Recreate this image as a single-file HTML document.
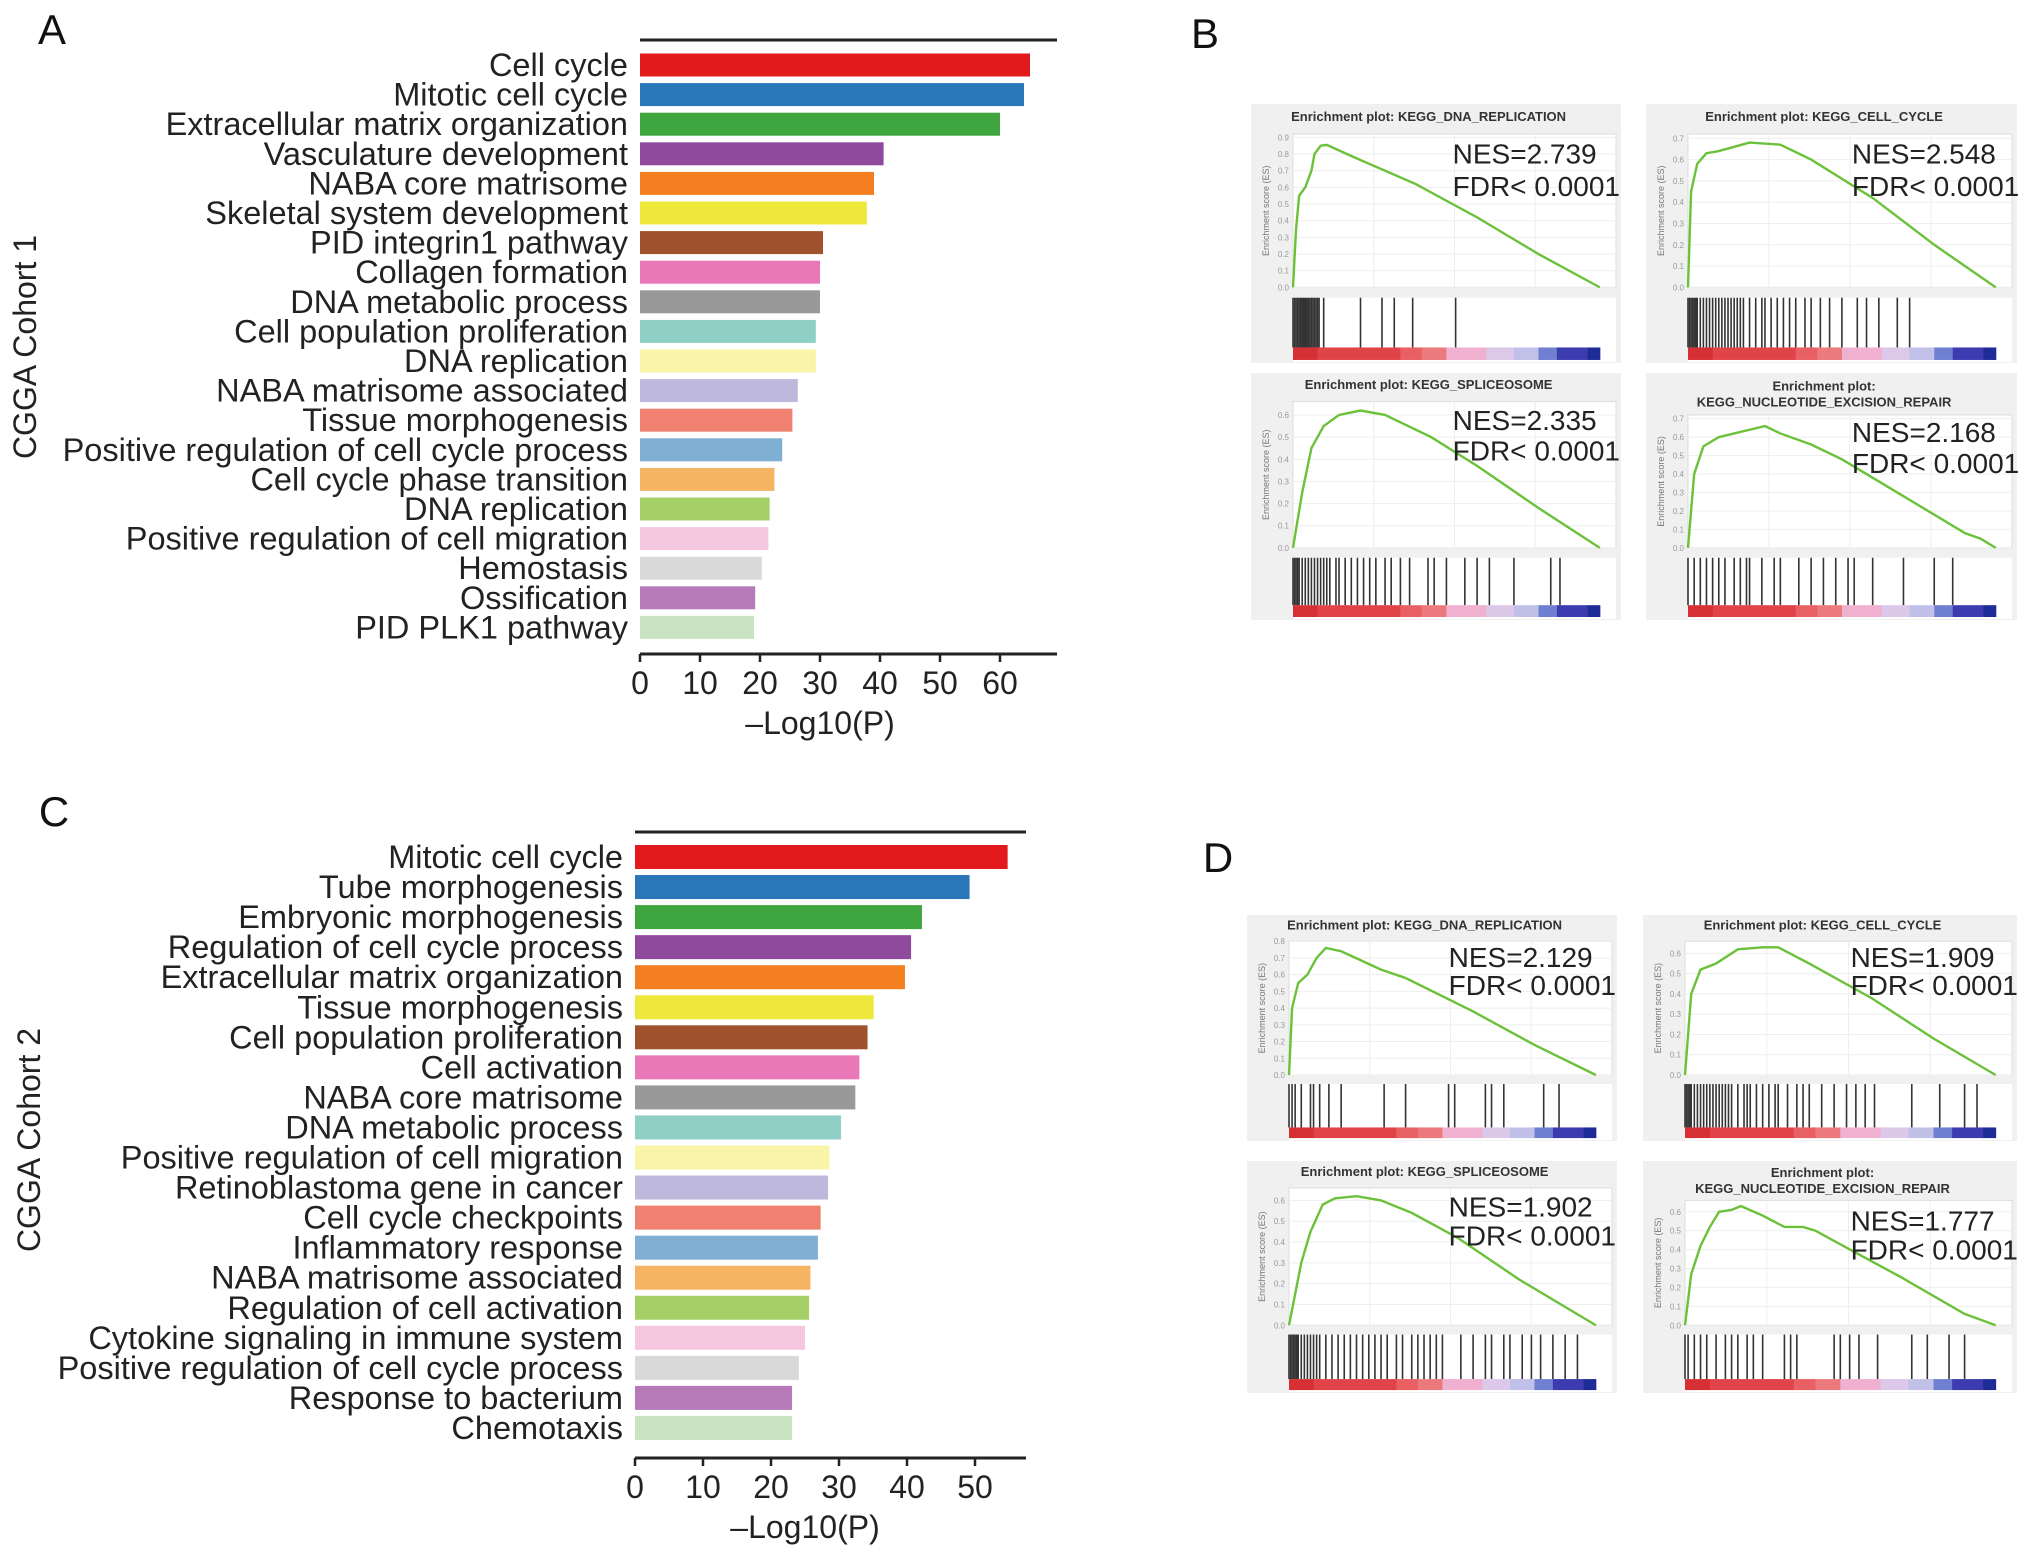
<!DOCTYPE html>
<html><head><meta charset="utf-8"><style>
html,body{margin:0;padding:0;background:#fff;}
svg{display:block;font-family:"Liberation Sans",Arial,sans-serif;}
</style></head><body>
<svg id="fig" width="2032" height="1548" viewBox="0 0 2032 1548" xmlns="http://www.w3.org/2000/svg">
<g id="layer"></g>
</svg>
<script>
// ---------- Panel A data ----------
const catsA = ["Cell cycle","Mitotic cell cycle","Extracellular matrix organization","Vasculature development","NABA core matrisome","Skeletal system development","PID integrin1 pathway","Collagen formation","DNA metabolic process","Cell population proliferation","DNA replication","NABA matrisome associated","Tissue morphogenesis","Positive regulation of cell cycle process","Cell cycle phase transition","DNA replication","Positive regulation of cell migration","Hemostasis","Ossification","PID PLK1 pathway"];
const valsA = [65,64,60,40.6,39,37.8,30.5,30,30,29.3,29.3,26.3,25.4,23.7,22.4,21.6,21.4,20.3,19.2,19];
const ticksA = [0,10,20,30,40,50,60];
// ---------- Panel C data ----------
const catsC = ["Mitotic cell cycle","Tube morphogenesis","Embryonic morphogenesis","Regulation of cell cycle process","Extracellular matrix organization","Tissue morphogenesis","Cell population proliferation","Cell activation","NABA core matrisome","DNA metabolic process","Positive regulation of cell migration","Retinoblastoma gene in cancer","Cell cycle checkpoints","Inflammatory response","NABA matrisome associated","Regulation of cell activation","Cytokine signaling in immune system","Positive regulation of cell cycle process","Response to bacterium","Chemotaxis"];
const valsC = [54.8,49.2,42.2,40.6,39.7,35.1,34.2,33,32.4,30.3,28.6,28.4,27.3,26.9,25.8,25.6,25,24.1,23.1,23.1];
const ticksC = [0,10,20,30,40,50];
const barColors = ["#e31a1c","#2a76b8","#3fa53f","#8f4a9d","#f47f20","#eee83a","#a0522d","#e878b8","#999999","#8ecfc6","#f8f4a8","#bdb8dc","#f0806f","#7fafd2","#f5b462","#a5d068","#f6c8e0","#d9d9d9","#b77ab9","#c8e4c0"];

// ---------- GSEA data ----------
const esB1 = [[0,0],[0.01,0.35],[0.02,0.55],[0.04,0.6],[0.06,0.7],[0.07,0.8],[0.09,0.85],[0.11,0.855],[0.2,0.78],[0.25,0.74],[0.4,0.62],[0.6,0.42],[0.8,0.2],[1,0]];
const esB2 = [[0,0],[0.01,0.45],[0.03,0.58],[0.06,0.63],[0.1,0.64],[0.15,0.66],[0.2,0.68],[0.3,0.67],[0.4,0.6],[0.6,0.42],[0.8,0.2],[1,0]];
const esB3 = [[0,0],[0.03,0.25],[0.06,0.45],[0.1,0.55],[0.15,0.6],[0.22,0.62],[0.3,0.6],[0.45,0.5],[0.6,0.37],[0.8,0.18],[1,0]];
const esB4 = [[0,0],[0.02,0.4],[0.05,0.55],[0.1,0.6],[0.15,0.62],[0.2,0.64],[0.25,0.66],[0.3,0.62],[0.4,0.56],[0.5,0.48],[0.7,0.28],[0.9,0.08],[0.95,0.05],[1,0]];
const esD1 = [[0,0],[0.01,0.4],[0.03,0.55],[0.06,0.6],[0.09,0.7],[0.12,0.76],[0.17,0.74],[0.3,0.63],[0.38,0.58],[0.6,0.38],[0.8,0.18],[1,0]];
const esD2 = [[0,0],[0.02,0.4],[0.05,0.52],[0.1,0.55],[0.17,0.62],[0.25,0.63],[0.3,0.63],[0.4,0.55],[0.6,0.38],[0.8,0.18],[1,0]];
const esD3 = [[0,0],[0.04,0.3],[0.07,0.45],[0.11,0.58],[0.15,0.61],[0.22,0.62],[0.3,0.6],[0.4,0.54],[0.55,0.42],[0.75,0.22],[1,0]];
const esD4 = [[0,0],[0.02,0.27],[0.05,0.42],[0.08,0.52],[0.11,0.6],[0.15,0.61],[0.18,0.63],[0.25,0.58],[0.32,0.52],[0.38,0.52],[0.42,0.5],[0.52,0.41],[0.7,0.25],[0.9,0.06],[1,0]];
const hitsB1 = [0,0.005,0.01,0.015,0.02,0.025,0.03,0.035,0.04,0.045,0.05,0.055,0.06,0.065,0.07,0.075,0.08,0.085,0.1,0.22,0.29,0.33,0.39,0.53];
const hitsB2 = [0,0.005,0.01,0.015,0.02,0.025,0.03,0.04,0.05,0.06,0.07,0.08,0.09,0.1,0.11,0.12,0.13,0.14,0.15,0.16,0.17,0.18,0.2,0.22,0.24,0.25,0.27,0.29,0.31,0.33,0.35,0.38,0.4,0.43,0.46,0.5,0.55,0.58,0.62,0.68,0.72];
const hitsB3 = [0,0.005,0.01,0.015,0.02,0.03,0.04,0.05,0.06,0.07,0.08,0.09,0.1,0.11,0.12,0.14,0.15,0.17,0.19,0.21,0.23,0.25,0.27,0.3,0.32,0.35,0.38,0.44,0.46,0.5,0.56,0.6,0.64,0.72,0.84,0.87];
const hitsB4 = [0,0.02,0.04,0.06,0.08,0.1,0.12,0.15,0.17,0.19,0.2,0.24,0.28,0.3,0.36,0.4,0.44,0.48,0.52,0.54,0.6,0.7,0.8,0.86];
const hitsD1 = [0,0.01,0.02,0.04,0.07,0.08,0.1,0.13,0.17,0.31,0.38,0.52,0.54,0.64,0.66,0.7,0.83,0.88];
const hitsD2 = [0,0.005,0.01,0.015,0.02,0.03,0.04,0.05,0.06,0.07,0.08,0.09,0.1,0.11,0.12,0.13,0.14,0.15,0.17,0.19,0.2,0.21,0.23,0.25,0.27,0.29,0.3,0.33,0.36,0.38,0.4,0.44,0.48,0.52,0.55,0.58,0.61,0.73,0.82,0.9,0.94];
const hitsD3 = [0,0.005,0.01,0.015,0.02,0.025,0.03,0.04,0.05,0.06,0.07,0.08,0.09,0.1,0.12,0.14,0.16,0.18,0.2,0.22,0.24,0.26,0.28,0.3,0.32,0.35,0.37,0.4,0.42,0.44,0.46,0.48,0.5,0.56,0.6,0.64,0.66,0.7,0.72,0.76,0.79,0.82,0.86,0.9,0.94];
const hitsD4 = [0,0.01,0.03,0.05,0.07,0.1,0.13,0.15,0.17,0.2,0.22,0.25,0.32,0.34,0.36,0.48,0.5,0.53,0.56,0.62,0.73,0.78,0.85,0.9];
const cbarColors = ["#d63035","#e04448","#e86064","#ec7a7c","#f0b0d0","#dcc8e8","#c0c0e8","#7080d0","#3c3cb0","#1e2c98"];
const cbarStops = [0,0.08,0.35,0.42,0.5,0.63,0.72,0.8,0.86,0.96,1];

const NS="http://www.w3.org/2000/svg";
const L=document.getElementById('layer');
function el(tag,attrs,parent,txt){const e=document.createElementNS(NS,tag);for(const k in attrs)e.setAttribute(k,attrs[k]);if(txt!==undefined)e.textContent=txt;(parent||L).appendChild(e);return e;}

function barChart(cats,vals,ticks,o){
  const g=el('g',{});
  
  
  const xs=v=>o.x0+v*o.ppu;
  const topLine=el('line',{x1:o.x0,x2:o.xEnd,y1:o.topY,y2:o.topY,stroke:'#222','stroke-width':3},g);
  
  
  cats.forEach((c,i)=>{
    const cy=o.y0+i*o.pitch;
    const r=el('rect',{x:o.x0,y:cy-o.bh/2,width:xs(vals[i])-o.x0,height:o.bh,fill:barColors[i]},g);
    
    
    const t=el('text',{x:o.x0-12,y:cy+11,'text-anchor':'end','font-size':32.5,fill:'#222'},g,c);
    
    
  });
  const ax=el('line',{x1:o.x0,x2:o.xEnd,y1:o.axY,y2:o.axY,stroke:'#222','stroke-width':3},g);
  
  
  ticks.forEach(v=>{
    el('line',{x1:xs(v),x2:xs(v),y1:o.axY,y2:o.axY+8,stroke:'#222','stroke-width':2.5},g);
    const t=el('text',{x:xs(v),y:o.axY+40,'text-anchor':'middle','font-size':32,fill:'#222'},g,String(v));
    
    
  });
  const xl=el('text',{x:(xs(ticks[0])+xs(ticks[ticks.length-1]))/2,y:o.axY+80,'text-anchor':'middle','font-size':32,fill:'#222'},g,'\u2013Log10(P)');
  
  
  const yl=el('text',{x:0,y:0,'text-anchor':'middle','font-size':32,fill:'#222',transform:`translate(${o.ylX},${o.ylY}) rotate(-90)`},g,o.ylabel);
  
  
}
barChart(catsA,valsA,ticksA,{name:'panel-a-bar-chart',x0:640,ppu:6.0,xEnd:1057,topY:40,y0:65,pitch:29.6,bh:23,axY:654,ylX:36,ylY:347,ylabel:'CGGA Cohort 1'});
barChart(catsC,valsC,ticksC,{name:'panel-c-bar-chart',x0:635,ppu:6.8,xEnd:1026,topY:832,y0:857,pitch:30.05,bh:24,axY:1458,ylX:40,ylY:1140,ylabel:'CGGA Cohort 2'});

function gsea(o,es,hits){
  const g=el('g',{transform:`translate(${o.x},${o.y})`});
  
  
  const W=o.w,H=o.h;
  el('rect',{x:0,y:0,width:W,height:H,fill:'#f0f0f0'},g);
  const t1=o.title2?0.07:0.065;
  const tt=el('text',{x:W*0.48,y:H*t1,'text-anchor':'middle','font-size':13,'font-weight':'bold',fill:'#333'},g,o.title);
  
  
  if(o.title2){el('text',{x:W*0.48,y:H*t1+16,'text-anchor':'middle','font-size':13,'font-weight':'bold',fill:'#333'},g,o.title2);}
  const px0=42,px1=W-5,pTop=H*(o.title2?0.17:0.116),pBot=H*0.708;
  el('rect',{x:px0,y:pTop,width:px1-px0,height:pBot-pTop,fill:'#fff',stroke:'#ddd'},g);
  const iw=(px1-px0)*0.95;
  const xs=f=>px0+f*iw, ys=v=>pBot-v/o.ymax*(pBot-pTop);
  for(let i=1;i<4;i++) el('line',{x1:px0+(px1-px0)*i/4,x2:px0+(px1-px0)*i/4,y1:pTop,y2:pBot,stroke:'#eee'},g);
  o.ticks.forEach(v=>{
    el('line',{x1:px0,x2:px1,y1:ys(v),y2:ys(v),stroke:'#eee'},g);
    el('text',{x:px0-4,y:ys(v)+3,'text-anchor':'end','font-size':8,fill:'#999'},g,v.toFixed(1));
  });
  el('text',{x:0,y:0,'text-anchor':'middle','font-size':9,fill:'#777',transform:`translate(${px0-24},${(pTop+pBot)/2}) rotate(-90)`},g,'Enrichment score (ES)');
  const line=el('polyline',{points:es.map(p=>xs(p[0])+','+ys(p[1])).join(' '),fill:'none',stroke:'#6cc13a','stroke-width':2.4},g);
  
  
  const hTop=H*0.748,cTop=H*0.94,cBot=H*0.996;
  el('rect',{x:px0,y:hTop,width:px1-px0,height:cBot-hTop,fill:'#fff'},g);
  hits.forEach(f=>el('line',{x1:xs(f),x2:xs(f),y1:hTop,y2:cTop,stroke:'#333','stroke-width':1.6},g));
  for(let i=0;i<cbarColors.length;i++){
    el('rect',{x:xs(cbarStops[i]),y:cTop,width:xs(cbarStops[i+1])-xs(cbarStops[i])+0.5,height:cBot-cTop-2,fill:cbarColors[i]},g);
  }
  const n=el('text',{x:W*o.tx,y:H*o.ty,'font-size':28,fill:'#222'},g,o.nes);
  
  
  const f=el('text',{x:W*o.tx,y:H*o.ty+H*0.125,'font-size':28,fill:'#222'},g,'FDR< 0.0001');
  
  
}
const tk=(m)=>{const a=[];for(let v=0;v<=m+1e-9;v+=0.1)a.push(Math.round(v*10)/10);return a;};
gsea({name:'gsea-b-dna-replication',x:1251,y:104,w:370,h:259,ymax:0.92,ticks:tk(0.9),title:'Enrichment plot: KEGG_DNA_REPLICATION',nes:'NES=2.739',tx:0.545,ty:0.23},esB1,hitsB1);
gsea({name:'gsea-b-cell-cycle',x:1646,y:104,w:371,h:259,ymax:0.72,ticks:tk(0.7),title:'Enrichment plot: KEGG_CELL_CYCLE',nes:'NES=2.548',tx:0.555,ty:0.23},esB2,hitsB2);
gsea({name:'gsea-b-spliceosome',x:1251,y:373,w:370,h:247,ymax:0.66,ticks:tk(0.6),title:'Enrichment plot: KEGG_SPLICEOSOME',nes:'NES=2.335',tx:0.545,ty:0.23},esB3,hitsB3);
gsea({name:'gsea-b-nucleotide-excision-repair',x:1646,y:373,w:371,h:247,ymax:0.72,ticks:tk(0.7),title:'Enrichment plot:',title2:'KEGG_NUCLEOTIDE_EXCISION_REPAIR',nes:'NES=2.168',tx:0.555,ty:0.28},esB4,hitsB4);
gsea({name:'gsea-d-dna-replication',x:1247,y:915,w:370,h:226,ymax:0.8,ticks:tk(0.8),title:'Enrichment plot: KEGG_DNA_REPLICATION',nes:'NES=2.129',tx:0.545,ty:0.23},esD1,hitsD1);
gsea({name:'gsea-d-cell-cycle',x:1643,y:915,w:374,h:226,ymax:0.66,ticks:tk(0.6),title:'Enrichment plot: KEGG_CELL_CYCLE',nes:'NES=1.909',tx:0.555,ty:0.23},esD2,hitsD2);
gsea({name:'gsea-d-spliceosome',x:1247,y:1161,w:370,h:232,ymax:0.66,ticks:tk(0.6),title:'Enrichment plot: KEGG_SPLICEOSOME',nes:'NES=1.902',tx:0.545,ty:0.24},esD3,hitsD3);
gsea({name:'gsea-d-nucleotide-excision-repair',x:1643,y:1161,w:374,h:232,ymax:0.66,ticks:tk(0.6),title:'Enrichment plot:',title2:'KEGG_NUCLEOTIDE_EXCISION_REPAIR',nes:'NES=1.777',tx:0.555,ty:0.3},esD4,hitsD4);

[['A',52,44],['B',1205,48],['C',54,826],['D',1218,872]].forEach(p=>{
  const t=el('text',{x:p[1],y:p[2],'text-anchor':'middle','font-size':42,fill:'#111'},L,p[0]);
  
  
});
</script>
</body></html>
